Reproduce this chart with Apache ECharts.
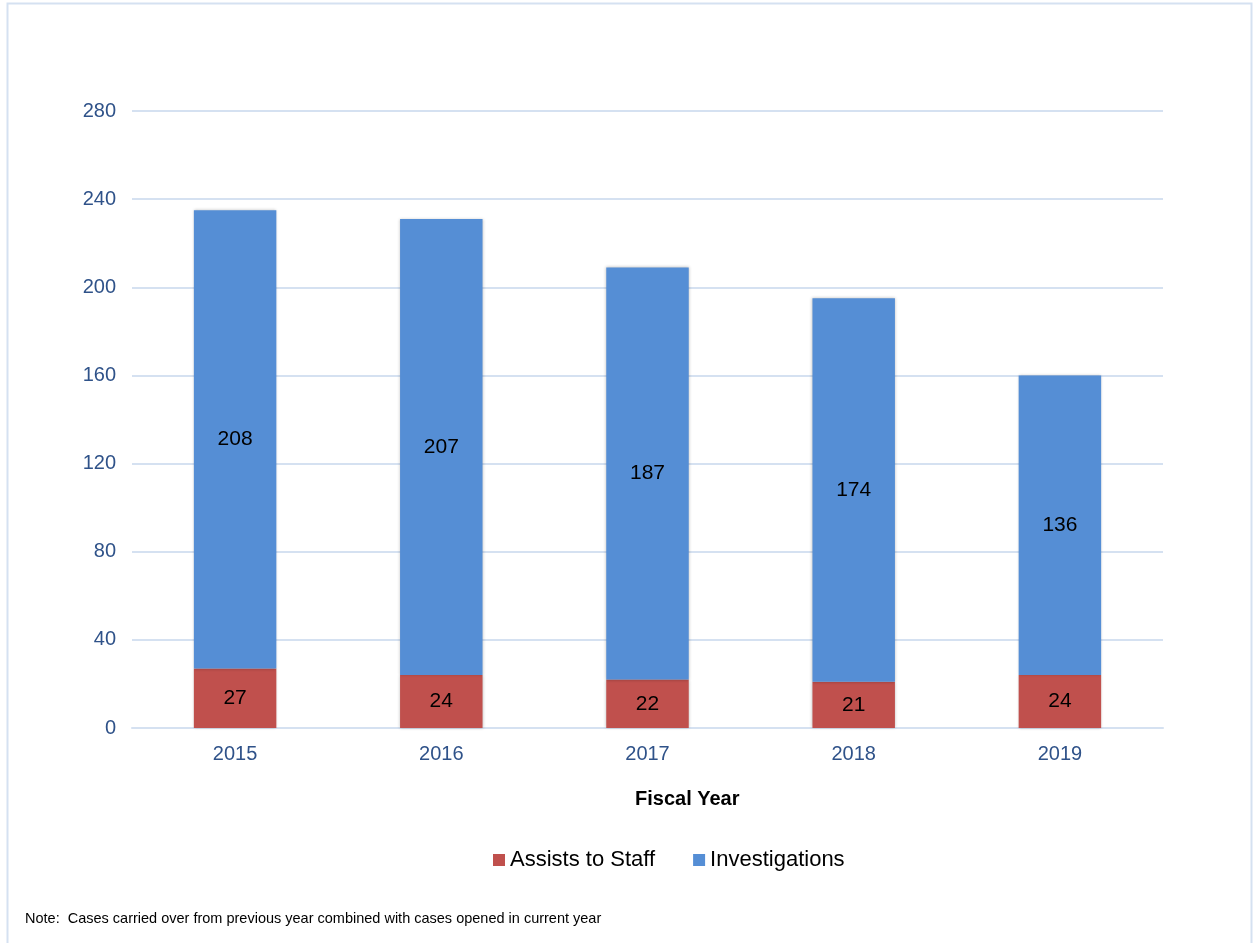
<!DOCTYPE html>
<html><head><meta charset="utf-8">
<script src="https://cdn.jsdelivr.net/npm/echarts@6/dist/echarts.min.js"></script>
<style>html,body{margin:0;padding:0;background:#fff}#c{width:1254px;height:943px}</style>
</head><body><div id="c"></div>
<script>
var categories = ['2015','2016','2017','2018','2019'];
var assists = [27, 24, 22, 21, 24];
var investigations = [208, 207, 187, 174, 136];
var yTicks = {min: 0, max: 280, interval: 40};

var chart = echarts.init(document.getElementById('c'));
var font = 'Liberation Sans, Arial, sans-serif';
chart.setOption({
  animation: false,
  textStyle: {fontFamily: font},
  graphic: [
    {type: 'rect', shape: {x: 7.5, y: 3.5, width: 1244, height: 942}, style: {fill: 'none', stroke: '#d5e1f1', lineWidth: 2}},
    {type: 'text', left: 25, top: 911, style: {text: 'Note:  Cases carried over from previous year combined with cases opened in current year', fill: '#000', font: '14.5px ' + font}},
    {type: 'text', left: 635, top: 789, style: {text: 'Fiscal Year', fill: '#000', font: 'bold 20px ' + font}}
  ],
  grid: {left: 132, right: 91, top: 111, bottom: 215},
  legend: {
    top: 844, left: 488, itemWidth: 12, itemHeight: 12, itemGap: 38,
    icon: 'rect',
    textStyle: {fontSize: 22, color: '#000', fontFamily: font},
    data: ['Assists to Staff', 'Investigations']
  },
  xAxis: {
    type: 'category', data: categories,
    axisLine: {lineStyle: {color: '#d5e1f1', width: 2}},
    axisTick: {show: false},
    axisLabel: {color: '#2f5289', fontSize: 20, margin: 16}
  },
  yAxis: {
    type: 'value', min: yTicks.min, max: yTicks.max, interval: yTicks.interval,
    axisLine: {show: false}, axisTick: {show: false},
    axisLabel: {color: '#2f5289', fontSize: 20, margin: 16},
    splitLine: {lineStyle: {color: '#d5e1f1', width: 2}}
  },
  series: [
    {name: 'Assists to Staff', type: 'bar', stack: 't', data: assists, barWidth: '40%',
     itemStyle: {color: '#c0504d', shadowColor: 'rgba(0,0,0,0.25)', shadowBlur: 3},
     label: {show: true, position: 'inside', color: '#000', fontSize: 21}},
    {name: 'Investigations', type: 'bar', stack: 't', data: investigations, barWidth: '40%',
     itemStyle: {color: '#558ed5', shadowColor: 'rgba(0,0,0,0.25)', shadowBlur: 3},
     label: {show: true, position: 'inside', color: '#000', fontSize: 21}}
  ]
});
</script></body></html>
